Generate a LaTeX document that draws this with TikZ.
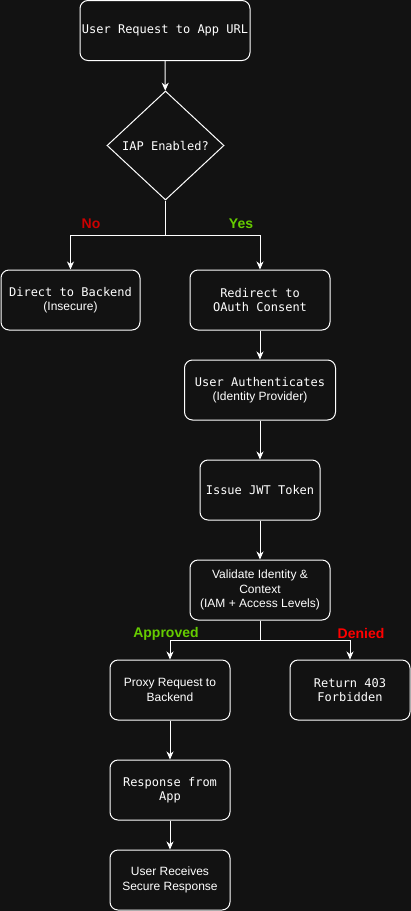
\documentclass[tikz,border=0pt]{standalone}
\usepackage{fontspec}
\setmainfont{Liberation Sans}
\newfontfamily\monof{DejaVu Sans Mono}
\usetikzlibrary{shapes.geometric,arrows.meta}
\definecolor{bg}{RGB}{18,18,18}
\definecolor{noRed}{RGB}{204,0,0}
\definecolor{yesGreen}{RGB}{102,204,0}
\definecolor{denRed}{RGB}{255,0,0}
\begin{document}
\begin{tikzpicture}[x=1pt,y=-1pt,
  box/.style={draw=white, line width=1pt, rounded corners=8pt, fill=bg, text=white,
    align=center, inner sep=0pt, minimum width=120pt, minimum height=60pt,
    font=\fontsize{12}{14.5}\selectfont},
  mono/.style={box, font=\fontsize{12}{14.5}\selectfont\monof},
  link/.style={draw=white, line width=1pt, -{Stealth[length=8pt,width=7pt,inset=2.5pt]}},
  lbl/.style={font=\fontsize{14}{16}\selectfont\bfseries, inner sep=0pt}]
\fill[bg] (0,0) rectangle (411,911);
\useasboundingbox (0,0) rectangle (411,911);

\node[mono, minimum width=170pt] (req) at (165,30.5) {User Request to App URL};
\node[draw=white, line width=1pt, diamond, minimum width=117pt, minimum height=109pt,
  inner sep=0pt, text=white, fill=bg, font=\fontsize{12}{14.5}\selectfont\monof] (iap) at (165.5,145.5) {IAP Enabled?};
\node[mono, minimum width=139pt] (direct) at (70.5,300) {Direct to Backend\\{\rmfamily (Insecure)}};
\node[mono, minimum width=140pt] (redirect) at (260,300) {Redirect to\\OAuth Consent};
\node[mono, minimum width=151pt] (auth) at (260,390) {User Authenticates\\{\rmfamily (Identity Provider)}};
\node[mono] (jwt) at (260,490) {Issue JWT Token};
\node[box, minimum width=140pt] (val) at (260,590) {Validate Identity \&\\Context\\(IAM + Access Levels)};
\node[box] (proxy) at (170,690) {Proxy Request to\\Backend};
\node[mono] (ret) at (350,690) {Return 403\\Forbidden};
\node[mono] (resp) at (170,790) {Response from\\App};
\node[box] (recv) at (170,880) {User Receives\\Secure Response};

\coordinate (s1) at (165.5,235);
\coordinate (s2) at (260,640);

\draw[link] (req) -- (iap);
\draw[link] (iap.south) -- (s1) -| (direct.north);
\draw[link] (iap.south) -- (s1) -| (redirect.north);
\draw[link] (redirect) -- (auth);
\draw[link] (auth) -- (jwt);
\draw[link] (jwt) -- (val);
\draw[link] (val.south) -- (s2) -| (proxy.north);
\draw[link] (val.south) -- (s2) -| (ret.north);
\draw[link] (proxy) -- (resp);
\draw[link] (resp) -- (recv);

\node[lbl, text=noRed] (lno) at (91,224) {No};
\node[lbl, text=yesGreen] (lyes) at (241,224) {Yes};
\node[lbl, text=yesGreen] (lapp) at (166,634) {Approved};
\node[lbl, text=denRed] (lden) at (361,633) {Denied};
\end{tikzpicture}
\end{document}
